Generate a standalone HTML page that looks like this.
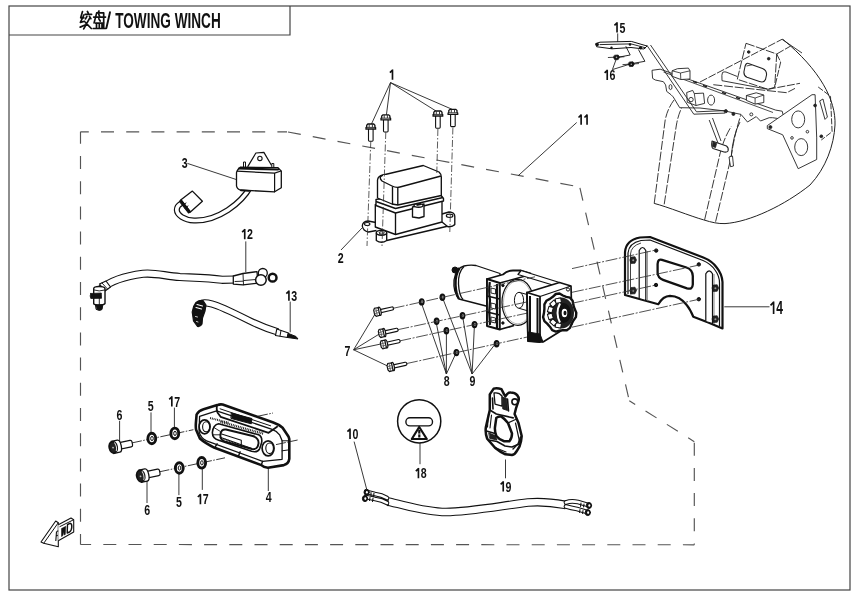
<!DOCTYPE html>
<html><head><meta charset="utf-8">
<style>
html,body{margin:0;padding:0;background:#fff;width:860px;height:600px;overflow:hidden}
svg{display:block;will-change:transform}
.lb{font-family:"Liberation Sans",sans-serif;font-weight:bold;font-size:15.2px;fill:#111}
</style></head><body>
<svg width="860" height="600" viewBox="0 0 860 600">
<defs>
<g id="bolt">
<rect x="-2.3" y="4.6" width="4.6" height="12.8" rx="0.9" fill="#fff" stroke="#111" stroke-width="1.1"/>
<path d="M-2.9,0.2 L2.9,0.2 L4.1,1.4 L4.1,3.3 L4.8,3.8 L4.8,5.2 L-4.8,5.2 L-4.8,3.8 L-4.1,3.3 L-4.1,1.4 Z" fill="#fff" stroke="#111" stroke-width="1.3"/>
<path d="M-1.6,0.5 L-1.6,3.4 M1.6,0.5 L1.6,3.4 M-4.5,3.6 L4.5,3.6" fill="none" stroke="#222" stroke-width="0.9"/>
</g>
<g id="bolt7">
<path d="M2.5,-1.6 L14.8,-1.6 Q16.2,-1.6 16.2,0 Q16.2,1.6 14.8,1.6 L2.5,1.6 Z" fill="#fff" stroke="#111" stroke-width="1.1"/>
<ellipse cx="2" cy="0" rx="1.3" ry="4.2" fill="#fff" stroke="#111" stroke-width="1.2"/>
<path d="M-3.6,-2.2 L-2.4,-4.1 L1.3,-3.9 L1.3,3.9 L-2.4,4.1 L-3.6,2.2 Z" fill="#fff" stroke="#111" stroke-width="1.2"/>
<path d="M-3.4,-1.1 L1.2,-1.3 M-3.4,1.2 L1.2,1.1 M-1.2,-3.9 L-1.2,3.9" fill="none" stroke="#555" stroke-width="0.8"/>
</g>
<g id="nut">
<ellipse cx="0" cy="0" rx="2.9" ry="3.7" fill="#111"/>
<ellipse cx="0.4" cy="-0.2" rx="1.1" ry="1.6" fill="#777"/>
</g>
<g id="bolt6">
<path d="M8,-3.3 L18.8,-3.3 Q20.5,-3.3 20.5,-1.6 L20.5,1.6 Q20.5,3.3 18.8,3.3 L8,3.3 Z" fill="#fff" stroke="#111" stroke-width="1.2"/>
<path d="M0.5,-6.2 L6.5,-6.2 Q9.2,-6.2 9.2,0 Q9.2,6.2 6.5,6.2 L0.5,6.2 Z" fill="#fff" stroke="#111" stroke-width="1.3"/>
<ellipse cx="1" cy="0" rx="3.9" ry="5.8" fill="#222" stroke="#111" stroke-width="1.8"/>
<path d="M3.2,-4.5 Q5.3,0 3.2,4.5" fill="none" stroke="#ddd" stroke-width="1"/>
<circle cx="0.8" cy="0.3" r="0.9" fill="#bbb"/>
</g>
<g id="washer">
<ellipse cx="0" cy="0" rx="3.9" ry="5.3" fill="#fff" stroke="#111" stroke-width="2.9"/>
<ellipse cx="0.2" cy="0" rx="1.3" ry="2.1" fill="none" stroke="#111" stroke-width="1"/>
</g>
</defs>
<g fill="none" stroke="#444" stroke-width="1.2">
<rect x="9" y="6" width="841" height="584"/>
<polyline points="9,35 290,35 290,6"/>
</g>
<!-- title -->
<g id="title">
<text class="lb" x="0" y="0" transform="translate(115.2,27.6) scale(0.608,1)" style="font-size:22.4px">TOWING WINCH</text>
</g>
<!-- dashed polygon 11 -->
<g fill="none" stroke="#555" stroke-width="1.15" stroke-dasharray="13 12.2">
<path d="M80.5,131.8 L80.5,544.5" stroke-dashoffset="1"/>
<path d="M80.5,131.8 L287,131.8" stroke-dashoffset="4.7"/>
<path d="M287,131.8 L579.7,187" stroke-dashoffset="-1"/>
<path d="M579.7,187 L629.3,400.7" stroke-dashoffset="-1"/>
<path d="M629.3,400.7 L694.3,441.7" stroke-dashoffset="6"/>
<path d="M694.3,441.7 L694.3,544.8" stroke-dashoffset="-1"/>
<path d="M80.5,544.5 L694.3,544.8" stroke-dashoffset="2.4"/>
</g>
<path id="leaders" fill="none" stroke="#222" stroke-width="0.9" d="M390.5,82.6L371.0,125.0M390.5,82.6L386.4,115.0M390.5,82.6L436.0,111.0M390.5,82.6L452.3,109.4M341.0,250.0L362.0,228.0M187.4,163.4L236.5,179.6M268.3,467.2L268.3,491.0M151.0,412.4L151.0,433.9M178.9,472.0L178.9,495.1M119.6,420.8L119.6,442.2M147.0,480.4L147.0,503.0M174.4,407.6L174.4,427.9M202.3,467.2L202.3,489.9M353.6,349.8L376.3,312.0M353.6,349.8L380.8,333.1M353.6,349.8L382.3,343.7M353.6,349.8L388.4,366.4M446.4,374L421.0,302.0M446.4,374L436.1,322.0M446.4,374L446.4,330.1M446.4,374L456.4,352.2M472.1,374L442.2,296.9M472.1,374L462.4,315.0M472.1,374L474.5,323.5M472.1,374L496.6,342.2M354.1,441.6L366.7,489.3M576.7,122.5L518.2,175.7M245.8,241.4L245.8,272.2M290.2,301.6L290.2,332.3M724.3,306.8L769.5,306.8M617.7,33.4L617.7,42.4M612.4,69.6L616.6,58.1M612.4,69.6L630.2,64.0M420.0,439.7L420.0,464.2M505.5,459.5L505.5,478.3"/>
<g id="cn" fill="none" stroke="#111" stroke-width="1.7" stroke-linecap="round" stroke-linejoin="round">
<path d="M82.5,11.5L80.7,17.8L83.9,17.8M83.9,15L80.4,22.4L84.6,21.3M80.2,27.1L85.1,25"/>
<path d="M87.4,11.5L88.3,13.1M85.1,14.3L91.6,14.3M86.9,16.4L85.5,18.9M89.5,16.4L90.9,18.7M89.7,18.2L83.7,28.9M85.3,22.4L91.3,28.5"/>
<path d="M99,11L97.9,13.1M96.7,12.9L94.1,22.9M96.7,12.9L103.7,12.9L103.7,22.4M93.7,17.1L105.5,17.1M98.8,14.5L99.5,15.9M98.8,18.7L100.2,21"/>
<path d="M95.5,23.1L103.7,23.1L103.7,28M96.5,23.1L96.5,28M99.3,23.1L99.3,28M102,23.1L102,28M93.2,28.5L105.8,28.5"/>
<path d="M110,12.2L106.4,28" stroke-width="1.9"/>
</g>
<g id="p1p2">
<use href="#bolt" x="370.8" y="123.8"/>
<use href="#bolt" x="385.8" y="114.6"/>
<use href="#bolt" x="437.9" y="110.8"/>
<use href="#bolt" x="452.9" y="109.2"/>
<g fill="#fff" stroke="#111" stroke-width="1.35" stroke-linejoin="round">
<!-- flange -->
<path d="M375.5,225 L386.7,240.5 L454.8,224.5 L442,219 Z" fill="#fff" stroke="none"/>
<path d="M386.7,240.5 L454.8,224.5"/>
<path d="M376,222.5 L368,221 Q362.5,221.5 362.3,226 Q363,231 368.5,232 L376.5,230.5" />
<ellipse cx="367.2" cy="224" rx="2.7" ry="1.5" stroke-width="1.1"/>
<path d="M376.3,232.8 L376.3,240.5 Q381.5,244 386.7,240.5 L386.7,232.8" />
<ellipse cx="381.5" cy="232.8" rx="5.2" ry="2.4"/>
<ellipse cx="381.7" cy="232.9" rx="2.6" ry="1.2" stroke-width="1"/>
<path d="M442,214 L449,212 Q455,212.2 454.8,216.5 L454.8,224.5 Q452,227.5 447.5,226.5 L442,222"/>
<ellipse cx="449.6" cy="215.8" rx="3.3" ry="1.7" stroke-width="1.1"/>
<!-- lower housing -->
<path d="M375.3,204.5 L395.5,211.5 L442,200 L442,222 L395.5,234.5 L375.3,227 Z"/>
<path d="M395.5,211.5 L395.5,234.5"/>
<path d="M376,199.3 L440.5,194.8 L443.5,198.5 L443.5,201 L395.5,213 L376,205.5 Z"/>
<path d="M376,201.5 L395.5,208.5 L443,197.5"/>
<path d="M412.5,207 L424,204 L424,216.5 L419,218 L412.5,217 Z"/>
<ellipse cx="418.5" cy="205.5" rx="4.5" ry="1.7"/>
<path d="M416.5,205 L421,204" stroke-width="2"/>
<!-- cap -->
<path d="M377.5,180 Q378,176 383,175 L423.3,165.5 L439,172 Q441.3,174 441.3,177 L441.3,195.5 L397.8,205 L392,204 L377.5,198 Z"/>
<path d="M383,175 Q378,177 382,181 L392,186 Q396,188 400,187 L441,176"/>
<path d="M392.5,186.5 L392.5,204.5 M397.8,187.5 L397.8,205"/>
</g>
<g fill="none" stroke="#333" stroke-width="0.8" stroke-dasharray="7 2 1.5 2">
<path d="M370.8,141 L367,246 M385.8,132 L382,246 M437.9,129 L436.8,173 M452.9,127.5 L449.8,232"/>
</g>
</g>
<g id="winch">
<use href="#bolt7" transform="translate(377.7,311.7) rotate(-12.4)"/>
<use href="#bolt7" transform="translate(382.3,333.0) rotate(-12.4)"/>
<use href="#bolt7" transform="translate(384.3,344.3) rotate(-12.4)"/>
<use href="#bolt7" transform="translate(391.0,367.0) rotate(-12.4)"/>
<use href="#nut" x="421.7" y="301.9"/>
<use href="#nut" x="436.6" y="321.3"/>
<use href="#nut" x="446.4" y="330.7"/>
<use href="#nut" x="456.4" y="352.6"/>
<use href="#nut" x="442.4" y="297.3"/>
<use href="#nut" x="462.5" y="315.8"/>
<use href="#nut" x="474.5" y="324.6"/>
<use href="#nut" x="496.6" y="343.8"/>
<g stroke="#111" stroke-linejoin="round">
<!-- motor -->
<path d="M464,266 Q470,264.5 476,265.5 L500,273.5 L500,300 L488,306.5 L459,299 Q453,292 454,280 Q456,268 464,266 Z" fill="#fff" stroke-width="1.3"/>
<path d="M464,266.5 Q458,272 458.5,284 Q459,295 463,299.5" fill="none" stroke-width="1.3"/>
<path d="M459.5,268 Q455,275 455.5,285 Q456,294 459,299" fill="none" stroke-width="2.4"/>
<circle cx="455" cy="270" r="3" fill="#111"/>
<!-- left plate -->
<path d="M487,279 L503,274.5 Q507,270.5 513,270.5 L521,270.5 L533,274 L533,317 L499.8,329.5 L487,326 Z" fill="#fff" stroke="none"/>
<path d="M487,326 L487,279 L503,274.5 Q507,270.5 513,270.5 L521,270.5 L531,273.5 M499.8,329.5 L514,325.5" fill="none" stroke-width="1.8"/>
<path d="M487,279 L499.8,283 L499.8,329.5 L487,326 Z" fill="#fff" stroke-width="1.9"/>
<path d="M489.8,282 Q488.5,292 490,300 Q488.5,312 490,325 M497,284 L497,328" fill="none" stroke-width="2.2"/>
<path d="M487,296 L499.8,299 M487,312 L499.8,315" fill="none" stroke-width="1.6"/>
<path d="M491,288 L495.5,289 L495.5,294 L491,293 Z M491,303 L495.5,304 L495.5,309 L491,308 Z M491,317 L495.5,318 L495.5,323 L491,322 Z" fill="#fff" stroke-width="0.9"/>
<path d="M499.8,283 L531,274.5" fill="none" stroke-width="1.3"/>
<ellipse cx="517.8" cy="302.3" rx="15.8" ry="23" fill="#fff" stroke-width="1.2"/>
<ellipse cx="517.8" cy="302.3" rx="14.3" ry="21.5" fill="none" stroke="#999" stroke-width="0.7"/>
<circle cx="502.9" cy="285.5" r="1.2" fill="#111"/><circle cx="502.9" cy="323" r="1.2" fill="#111"/>
<!-- drum hub -->
<path d="M519,292.3 L540,298 M519,308.3 L537,313.5" fill="none" stroke-width="1"/>
<ellipse cx="519" cy="300.3" rx="4.6" ry="8" fill="#fff" stroke-width="1"/>
<!-- tie bar -->
<path d="M521,270.5 L559.5,282.5 L556,286 L518,274.5 Z" fill="#fff" stroke-width="1.3"/>
<path d="M392.7,308.4L535.0,276.8M397.3,329.8L535.0,300.2M399.3,341.0L535.0,311.4M406.0,363.7L535.0,335.3" fill="none" stroke="#333" stroke-width="0.85" stroke-dasharray="12 1.6 2 1.6"/>
<!-- right plate -->
<path d="M527,292.5 L559.5,282.5 L571,286 L572,324 L543,342 L528,341 Z" fill="#fff" stroke-width="1.7"/>
<path d="M527,292.5 L540,296.5 L540,342 L528,341 Z" fill="#fff" stroke-width="1.8"/>
<path d="M540,296.5 L571,286" fill="none" stroke-width="1.3"/>
<path d="M530,296 L530,334 M537.5,298 L537.5,335" fill="none" stroke-width="2"/>
<path d="M528,332 L540,334 L543,342 L528,341 Z" fill="#111" stroke-width="1"/>
<circle cx="568" cy="289.5" r="1.6" fill="#fff" stroke-width="1"/>
<!-- knob -->
<path d="M576.3,312.8 L575.9,317.1 L573.4,320.5 L571.6,323.9 L570.0,327.9 L566.8,330.2 L562.9,330.1 L559.5,330.6 L555.8,331.6 L552.2,330.2 L549.9,326.7 L547.4,323.9 L544.4,321.2 L543.1,317.1 L544.0,312.8 L544.4,308.8 L544.4,304.4 L546.4,300.8 L549.9,298.9 L552.8,296.8 L555.8,294.0 L559.5,293.5 L562.9,295.5 L566.2,296.8 L570.0,297.7 L572.6,300.8 L573.4,305.1 L574.6,308.8 Z" fill="#fff" stroke-width="2.4"/>
<ellipse cx="561" cy="313" rx="13" ry="15.5" fill="#222" stroke="none"/>
<rect x="555.5" y="323.0" width="5.6" height="4.6" transform="rotate(190 558.3 325.3)" fill="#fff" stroke="#111" stroke-width="1"/>
<rect x="550.5" y="320.0" width="5.6" height="4.6" transform="rotate(222 553.3 322.3)" fill="#fff" stroke="#111" stroke-width="1"/>
<rect x="547.6" y="314.1" width="5.6" height="4.6" transform="rotate(254 550.4 316.4)" fill="#fff" stroke="#111" stroke-width="1"/>
<rect x="547.6" y="307.3" width="5.6" height="4.6" transform="rotate(286 550.4 309.6)" fill="#fff" stroke="#111" stroke-width="1"/>
<rect x="550.5" y="301.4" width="5.6" height="4.6" transform="rotate(318 553.3 303.7)" fill="#fff" stroke="#111" stroke-width="1"/>
<rect x="555.5" y="298.4" width="5.6" height="4.6" transform="rotate(350 558.3 300.7)" fill="#fff" stroke="#111" stroke-width="1"/>
<ellipse cx="563.5" cy="313" rx="7.5" ry="10" fill="#111" stroke="none"/>
<path d="M560,303.5 Q555,313 560,322.5" fill="none" stroke="#fff" stroke-width="2"/>
<ellipse cx="564.5" cy="313" rx="3.6" ry="5" fill="#fff" stroke="#111" stroke-width="1.6"/>
<ellipse cx="565" cy="313" rx="1.5" ry="2.2" fill="#111" stroke="none"/>
</g>
</g>
<g id="p14" stroke="#111" stroke-linejoin="round">
<path d="M625,295 L625,252 Q626,240 640,237.5 L650,237 L703.3,257.5 Q712,261 716.7,267.5 Q722,274 722.5,282 L722.5,328.5 L708.3,322.5 L693.3,316.7 Q690,309 686.7,305 Q680,296 670,295.8 Q663,296 658.3,304.2 Z" fill="#fff" stroke-width="2.2"/>
<path d="M628,294 L628,253 Q629,243 641,240.5 L650,240 L703,260.5 Q711,264 715,270 Q719.5,276 719.5,283 L719.5,326" fill="none" stroke-width="1.2"/>
<path d="M630.5,294.5 L630.5,254 Q631,246 641,243" fill="none" stroke-width="0.8"/>
<path d="M662,259.8 L686.5,267.5 Q692.5,269.5 692.8,276 L692.8,284.5 Q692.5,290 687,288.3 L663,279.8 Q657.8,278 657.6,272.5 L657.6,264 Q658,258.5 662,259.8 Z" fill="none" stroke-width="2.3"/>
<path d="M639.2,298.5 L639.2,250.5 Q642.5,244.5 645.8,250.5 L645.8,300.5 Z" fill="#fff" stroke-width="1.2"/><path d="M647.3,251 L647.3,301" fill="none" stroke="#777" stroke-width="0.9"/>
<path d="M705.8,321.5 L705.8,273.8 Q709.1,267.8 712.5,273.8 L712.5,323.5 Z" fill="#fff" stroke-width="1.2"/><path d="M714,274 L714,324" fill="none" stroke="#777" stroke-width="0.9"/>
<circle cx="656.2" cy="250.6" r="1.7" fill="#111"/><circle cx="698.8" cy="264.4" r="1.7" fill="#111"/>
<circle cx="656" cy="285" r="1.7" fill="#111"/><circle cx="698.8" cy="299.2" r="1.7" fill="#111"/>
<g fill="#222" stroke-width="0.6">
<path d="M631,257 L635,256.7 L636.5,260 L635,263.3 L631,263.6 L629.8,260 Z"/>
<path d="M631,287.5 L635,287.2 L636.5,290.5 L635,293.8 L631,294.1 L629.8,290.5 Z"/>
<path d="M713.2,285 L717.2,284.7 L718.7,288 L717.2,291.3 L713.2,291.6 L712,288 Z"/>
<path d="M713.2,316 L717.2,315.7 L718.7,319 L717.2,322.3 L713.2,322.6 L712,319 Z"/>
</g>
<g fill="#999" stroke="none"><circle cx="633.2" cy="260.2" r="1"/><circle cx="633.2" cy="290.7" r="1"/><circle cx="715.4" cy="288.2" r="1"/><circle cx="715.4" cy="319.2" r="1"/></g>
</g>
<path d="M572.0,268.6L657.3,249.7M572.0,292.3L700.7,264.7M572.0,303.3L657.3,284.7M572.0,327.2L700.7,298.9" fill="none" stroke="#333" stroke-width="0.85" stroke-dasharray="12 1.6 2 1.6"/>

<g id="p4" stroke="#111" stroke-linejoin="round" stroke-linecap="round" transform="translate(0.6,0.8)">
<path d="M196,413.7 Q198,410 203,408.5 L216.7,404.3 Q219,403.3 222,403.7 L272.7,421.7 Q278,423.5 282,427 L288,436 Q289,438 288.7,441 L288.7,458 Q288,463 283.3,464.3 L267.3,467 Q263,466.5 260.7,464.3 L214,447 Q204,442 199.3,437.7 L195.5,429 Q195,426 195.3,422 Z" fill="#fff" stroke-width="2.6"/>
<path d="M199,415.5 L216,410 L271.5,428.5 Q276,430 279,434 L281.5,440 L281.5,458.5 M199,415.5 L198.5,431 Q200,437 206,440 L262,460.5 L281.5,458.5" fill="none" stroke-width="1.3"/>
<path d="M216.5,404.5 Q215.5,408 217,412 L220,416 L268,432 L276.5,426" fill="none" stroke-width="1.8"/>
<path d="M231,412.3 L251.3,417.7 L250.7,423 L230.7,417.7 Z" fill="#111" stroke-width="1"/>
<path d="M219.5,408 L270,425" fill="none" stroke-width="1"/>
<ellipse cx="204" cy="426" rx="5.5" ry="7" fill="#fff" stroke-width="1.7"/>
<ellipse cx="205.5" cy="426" rx="3.5" ry="5" fill="none" stroke-width="1.1"/>
<ellipse cx="267.5" cy="447.5" rx="6" ry="7.5" fill="#fff" stroke-width="1.7"/>
<ellipse cx="269" cy="447.5" rx="3.8" ry="5.3" fill="none" stroke-width="1.1"/>
<path d="M218.1,422.9 L258,434 Q262,436 261,442 L259,448 Q257,452 251,450.5 L218.1,439.5 Q211.5,437.5 211.8,431.5 Q212.5,424 218.1,422.9 Z" fill="#fff" stroke-width="1.6"/>
<path d="M220,421 L263,433" fill="none" stroke-width="2.3" stroke-dasharray="0.9 0.9" stroke-linecap="butt"/>
<path d="M209.5,417.2 L228,422" fill="none" stroke-width="2" stroke-dasharray="0.9 0.9" stroke-linecap="butt"/>
<path d="M225.4,428.7 L252.1,435.2 Q258.4,437.2 257.9,442.7 Q257,449.2 251.4,448.2 L224,440.5 Q219.5,439 219.8,434 Q220.3,428 225.4,428.7 Z" fill="#fff" stroke-width="1.9"/>
<path d="M219.5,436.5 L250.5,447.5 M221,433.2 L240.7,439.5 L240.7,446.3" fill="none" stroke-width="1.1"/>
<path d="M222.5,438 L238,443.3" fill="none" stroke-width="1.6" stroke-dasharray="0.8 0.8" stroke-linecap="butt"/>
<path d="M213,426.5 L219.5,430.5 M212.5,434 L219.5,434" fill="none" stroke-width="0.9"/>
<path d="M214,447 L216.5,443 M260.7,464.3 L262,460.5 M238,455 L239.5,451" fill="none" stroke-width="1.4"/>
<path d="M281.5,440 L288.5,440 M281.5,450 L288.7,449" fill="none" stroke-width="1"/>
</g>
<g id="p6">
<path d="M132,442.9 L193.4,429.7 M258,416.2 L273,413 M159.5,471.8 L225,457.8 M276,444.6 L297.6,440" fill="none" stroke="#222" stroke-width="0.9" stroke-dasharray="10 1.5 1.5 1.5"/>
<use href="#bolt6" transform="translate(112.2,447.5) rotate(-12)"/>
<use href="#bolt6" transform="translate(139.7,476.3) rotate(-12)"/>
<use href="#washer" x="151.8" y="438.5"/>
<use href="#washer" x="174.8" y="433.4"/>
<use href="#washer" x="179.3" y="468"/>
<use href="#washer" x="201.7" y="462.8"/>
</g>
<g id="p3" stroke="#111" stroke-linejoin="round" stroke-linecap="round">
<path d="M250.5,186.5 C247,193 240,202 228,210 C218,216.5 206,221 194,220.5 C184,220 177,215 176.8,210 C176.7,207 178.5,205 181,203.5" fill="none" stroke="#111" stroke-width="6"/>
<path d="M250.5,186.5 C247,193 240,202 228,210 C218,216.5 206,221 194,220.5 C184,220 177,215 176.8,210 C176.7,207 178.5,205 181,203.5" fill="none" stroke="#fff" stroke-width="3.6"/>
<path d="M181,199.8 L192.4,191.1 L202.4,201.2 L190.4,211.9 Z" fill="#fff" stroke-width="1.3"/>
<path d="M181,199.8 L190.4,211.9 L188.5,213 L179.5,201.5 Z" fill="#111" stroke-width="1.2"/>
<path d="M183,205 L186,203 M185,208 L188,206" fill="none" stroke-width="1"/>
<path d="M247.9,166.4 L255.9,153 L263.9,152.4 L271.3,165" fill="#fff" stroke-width="1.2"/>
<circle cx="259.9" cy="158.4" r="2.2" fill="#fff" stroke-width="1.1"/>
<path d="M243.5,167 L243.5,162 L245.5,162 L245.5,167 M271.8,167.5 L271.8,163.5 L273.8,163.5 L273.8,167.5" fill="#fff" stroke-width="1"/>
<path d="M236.5,172.5 Q237,169.5 240.5,167.1 L278,167.7 L281.3,171.1 L281.3,187.8 L274.6,191.8 L240,190 Q237,189 236.5,186 Z" fill="#fff" stroke-width="1.3"/>
<path d="M237,171.2 L274.6,173.1 L281,171 M274.6,173.1 L274.6,191.8" fill="none" stroke-width="1.2"/>
<path d="M239,168.5 L278,169.5" fill="none" stroke-width="2.2"/>
<path d="M241,190.3 L249,190.8" fill="none" stroke-width="1.8"/>
</g>
<g id="p12" stroke="#111" stroke-linejoin="round" stroke-linecap="round">
<path d="M101,289 C108,283 118,277 143,273.8 C155,272.5 165,276 180,277 C198,277.8 210,278 222,279.8 L236,279.5" fill="none" stroke="#111" stroke-width="8.2" stroke-linecap="butt"/>
<path d="M101,289 C108,283 118,277 143,273.8 C155,272.5 165,276 180,277 C198,277.8 210,278 222,279.8 L236,279.5" fill="none" stroke="#fff" stroke-width="6" stroke-linecap="butt"/>
<circle cx="262.8" cy="273" r="4.5" fill="#fff" stroke-width="1.3"/>
<path d="M233.3,276 L243,273.5 L257,271.6 L258,283.2 L243,284.8 L233.3,284.1 Z" fill="#fff" stroke-width="1.3"/>
<path d="M243,273.5 L243.5,284.8 M235,281.5 L243,281.2 M244,280.5 L256,279.5" fill="none" stroke-width="0.9"/>
<circle cx="260.9" cy="280" r="5.3" fill="#fff" stroke-width="1.5"/>
<circle cx="272.6" cy="277.7" r="3.9" fill="#fff" stroke-width="2.5"/>
<path d="M99.5,284 L106,281 L110.5,287 L105,291 Z" fill="#fff" stroke-width="1.2"/>
<path d="M102,283 L107.5,289" fill="none" stroke-width="0.9"/>
<path d="M93.7,288.5 Q94,286.5 99,286.5 Q104.5,286.5 105,288.5 L105,303.5 Q104,305 99.5,305 Q94,305 93.7,303.5 Z" fill="#fff" stroke-width="1.4"/>
<path d="M93.8,290 Q99,292 105,290 M99.3,298 L99.3,305" fill="none" stroke-width="0.9"/>
<path d="M90.7,293.5 L101.3,293 L101.5,298.3 L90.8,298.5 Q89.5,296 90.7,293.5 Z" fill="#111" stroke-width="0.8"/>
<path d="M95.8,305 L102.8,305 L102,309.5 L99.5,310.5 L96.5,309.5 Z" fill="#111" stroke-width="1"/>
</g>
<g id="p13" stroke="#111" stroke-linejoin="round" stroke-linecap="round">
<path d="M199,306 C202,302 206,302.5 212,304 C218,305.5 228,310 248,320 C258,325 268,329 278,332" fill="none" stroke="#111" stroke-width="7.4" stroke-linecap="butt"/>
<path d="M199,306 C202,302 206,302.5 212,304 C218,305.5 228,310 248,320 C258,325 268,329 278,332" fill="none" stroke="#fff" stroke-width="5.2" stroke-linecap="butt"/>
<path d="M276.8,329 L288.5,333 L287.5,337.5 L275.5,335.5 Z" fill="#fff" stroke-width="1.2"/>
<path d="M281,330.5 L280,336" fill="none" stroke-width="1"/>
<path d="M288.5,333.5 L296,336.5 L298,339 L287.5,337.5 Z" fill="#111" stroke-width="1"/>
<path d="M196,302.5 Q199,300 203,300.5 L206,305 L205,311 L202.5,318 L202,324 Q200.5,327 197.5,326.5 L193.5,321 L192.2,312 Q193,306 196,302.5 Z" fill="#111" stroke-width="1.2"/>
<path d="M197,304.5 L202.5,306 M196,307.5 L201.5,309" fill="none" stroke="#fff" stroke-width="1.1"/>
<path d="M195.5,316.5 L197.5,317 M196.5,321.5 L198,322" fill="none" stroke="#fff" stroke-width="0.8"/>
</g>
<g id="p10" stroke="#111" stroke-linejoin="round" stroke-linecap="round">
<path d="M387.5,501.5 C405,505 425,512 446,512 C468,512 500,506 528,502.5 C545,501 555,503 566,505" fill="none" stroke="#111" stroke-width="8.6" stroke-linecap="butt"/>
<path d="M387.5,501.5 C405,505 425,512 446,512 C468,512 500,506 528,502.5 C545,501 555,503 566,505" fill="none" stroke="#fff" stroke-width="6.4" stroke-linecap="butt"/>
<path d="M388,497.5 L388,505.5 M565.5,501 L565,508" fill="none" stroke-width="1.3"/>
<path d="M387,498 Q382,495 375,494 L367,492 M387,503 Q382,500 375,499 L366,497" fill="none" stroke="#111" stroke-width="4.6"/>
<path d="M387,498 Q382,495 375,494 L367,492 M387,503 Q382,500 375,499 L366,497" fill="none" stroke="#fff" stroke-width="2.6"/>
<ellipse cx="366.6" cy="492.2" rx="2.6" ry="3" fill="#111" stroke-width="1"/><ellipse cx="366.9" cy="492.2" rx="1" ry="1.3" fill="#fff" stroke="none"/>
<ellipse cx="365" cy="498.6" rx="2.6" ry="3" fill="#111" stroke-width="1"/><ellipse cx="365.3" cy="498.6" rx="1" ry="1.3" fill="#fff" stroke="none"/>
<path d="M371,492.5 L371,495.8 M374,493.2 L373.5,496.5 M370,497.5 L369.5,500.5 M373,498.3 L372.5,501.5" fill="none" stroke-width="1.1"/>
<path d="M566,502.5 Q571,500.5 578,502 L588,505 M566,506.5 Q571,508 577,509 L587,512" fill="none" stroke="#111" stroke-width="4.6"/>
<path d="M566,502.5 Q571,500.5 578,502 L588,505 M566,506.5 Q571,508 577,509 L587,512" fill="none" stroke="#fff" stroke-width="2.6"/>
<ellipse cx="589" cy="505.5" rx="2.6" ry="3" fill="#111" stroke-width="1"/><ellipse cx="589.3" cy="505.5" rx="1" ry="1.3" fill="#fff" stroke="none"/>
<ellipse cx="587.8" cy="512.6" rx="2.6" ry="3" fill="#111" stroke-width="1"/><ellipse cx="588.1" cy="512.6" rx="1" ry="1.3" fill="#fff" stroke="none"/>
<path d="M581,503 L580.5,506.5 M584,504 L583.5,507 M580,509.5 L579.5,512.5 M583,510.5 L582.5,513.5" fill="none" stroke-width="1.1"/>
</g>
<g id="p18" stroke="#111" stroke-linejoin="round">
<circle cx="419.2" cy="421.3" r="21.6" fill="#fff" stroke-width="1.5"/>
<rect x="405.9" y="417.8" width="26.6" height="8.1" rx="4" fill="#fff" stroke-width="1.4"/>
<path d="M419.2,427 L411.8,439 L426.8,439 Z" fill="#fff" stroke-width="2.2"/>
<path d="M419.3,430 L419.3,437.5" fill="none" stroke-width="2.2"/>
<path d="M417.5,434 L421,434" fill="none" stroke="#fff" stroke-width="0.8"/>
</g>
<g id="p19" stroke="#111" stroke-linejoin="round" stroke-linecap="round">
<path d="M489.8,394.4 L493.7,388.6 Q497,387.5 501.5,389.2 L504.1,394.4 L505.4,396.4 Q508,392 510.6,392.5 Q515,392.5 517.2,395.1 Q519.5,398 518.5,400.9 L515.9,408.7 L514.6,414 L518.5,423 L521.7,436 L521,441.3 Q520,447 517.2,450.4 Q515,454.5 512,455 L505.4,454.3 Q500,452 495,447.8 L487.2,438.7 Q485,433 485.9,427 L489.8,410 Z M496.3,417.9 Q498.5,416 501.5,416.6 Q505,419 508,423 L512,433.5 Q512,438.5 509.3,441.3 L504.1,441.3 Q499,439.5 496.3,436 Q494.5,431 495,427 Z" fill="#fff" fill-rule="evenodd" stroke-width="2.5"/>
<path d="M489.8,410 L496.3,414 L513.2,417.9 M492.5,398 L493,409 M507.5,399 L508.5,411" fill="none" stroke-width="1.6"/>
<path d="M494,393 Q499,392 502,396 L502,406 L495,404 Z" fill="#fff" stroke-width="1.3"/>
<circle cx="514.8" cy="401.8" r="2.9" fill="#fff" stroke-width="1.6"/>
<path d="M486.5,431 L495,433.5 M488.5,440 L497,441.5 L505,446 L512,447 L519,444" fill="none" stroke-width="1.5"/>
<path d="M489,433 L495,435.5 L497,440 L490,438.5 Z" fill="#222" stroke-width="0.8"/>
<path d="M515.5,423 L519.8,442.6 M508,423 L515.5,419.5" fill="none" stroke-width="1.2"/>
<path d="M496,448 L506,452" fill="none" stroke-width="1.2"/>
<path d="M502.5,397 L506.5,398.5 L507.5,410.5 L503,409 Z" fill="#222" stroke-width="0.8"/>
<path d="M488.5,414 L487.5,427 M491.5,415 L490,428" fill="none" stroke-width="1.1"/>
<path d="M513,449 L518,444 L520.5,437" fill="none" stroke-width="1.4"/>
</g>
<g id="frame" fill="none" stroke="#222" stroke-width="0.9" stroke-linejoin="round">
<!-- boundary arc -->
<path d="M654.2,203.4 C668,207 690,216 703.7,219.9 C712,222.5 718,223.8 725,223.6 C750,222 785,205 810,185 C826,168 834,145 835,125 C836,100 820,70 782.7,39.2" stroke-width="1"/>
<!-- tubes -->
<g stroke-dasharray="9 1.8">
<path d="M654.2,203.4 L665.2,120 Q668,106 677.5,95.8"/>
<path d="M664.2,204.3 L676.4,125 Q678.5,113 683,105.5"/>
<path d="M704.6,219.9 L720.2,153 Q724,138 731.3,126.4"/>
<path d="M715.6,221.7 L731.2,156.7 Q734,136 741,114.4"/>
<path d="M713.3,84.7 L786.7,92.7 L795,88.4"/>
</g>
<!-- beam front face -->
<path d="M652,70.3 L660.2,69.2 L775.7,110.1 L782.2,111.2 L783.3,115.5 L780,118.8 L772.5,117.7 L769.2,117.7 L760.5,121 L756.2,116.6 L747.5,122 L741,114.4 L725,111 L700,108 L679.7,107.7 L673.2,96.9 L671,94.7 L666.7,91.4 L665.6,84.9 L663.4,81.7 L655.3,80 L652.6,78.4 Z" fill="#fff"/>
<path d="M663.5,72 L773,112.5" stroke-width="0.8"/>
<path d="M693,81.5 L697,82.8 M703,85.5 L707,86.8 M722,92.5 L726,93.8 M736,97.5 L740,98.8" stroke-width="1.6"/>
<path d="M672.1,76.3 L672.1,70.8 L677.5,68.7 L688.4,68.1 L690,70.8 L690,79 L680.8,79.5 Z" fill="#fff"/>
<path d="M672.1,70.8 L680.5,73 L690,70.8 M680.5,73 L680.8,79.5" stroke-width="0.8"/>
<path d="M686.7,92.5 L692.7,90.4 L694.3,93.6 L703.5,93.1 L704.6,103.4 L696,105.5 L687.3,102.3 Z" fill="#fff"/>
<path d="M694.3,93.6 L696,105.5" stroke-width="0.8"/>
<path d="M746.4,95.5 L756.2,92.8 L763.8,95 L763.8,102.5 L755.1,104.1 L746.4,100.4 Z" fill="#fff"/>
<path d="M746.4,95.5 L755.1,98 L763.8,95 M755.1,98 L755.1,104.1" stroke-width="0.8"/>
<ellipse cx="711.1" cy="100.1" rx="3.5" ry="5"/><circle cx="691" cy="99.6" r="2.2"/><ellipse cx="670.5" cy="87.1" rx="1.5" ry="2.5"/><circle cx="751.3" cy="114.4" r="1.5"/>
<!-- upper bracket -->
<path d="M700,82 L782,39.3 M776.7,54 L790.7,46 M768,89.3 L800,83.3" stroke-dasharray="8 1.6"/>
<path d="M782,39.3 L802,53"/>
<path d="M722,80.7 L768,89.3 M722.5,72.5 Q721.5,74 722,80.7 M722.5,72.5 Q724,71.5 726,72 L737.3,76.5" stroke-width="0.9"/>
<path d="M746,43.3 L776.7,54 L774.7,87.3 L768,89.3 L737.3,79.3 Z" fill="none" stroke-dasharray="9 1.5"/>
<path d="M776.7,54 L780.7,62 L774.7,87.3" stroke-dasharray="7 1.5"/>
<path d="M748.5,63.5 L762.5,68.5 Q767,70.5 766.5,75 L765.5,79.5 Q764,83 759.5,81.5 L747,77.3 Q743.5,75.8 744,71.5 L745,66.5 Q746,62.5 748.5,63.5 Z" stroke-width="1.1"/>
<path d="M746.5,66 L752,64.8" stroke-width="0.8"/>
<circle cx="748.7" cy="52" r="1.3" fill="#222"/><circle cx="768.7" cy="58.7" r="1.3" fill="#222"/>
<!-- gusset plate -->
<path d="M767.3,125.6 L812,94.7 L815.1,94.7 L816.7,137.9 L816.7,159.5 L798.2,168.7 L782.7,134.8 L767.3,128.6 Z" fill="#fff"/>
<ellipse cx="798.2" cy="119.4" rx="6.5" ry="8.5"/><ellipse cx="801.2" cy="147.1" rx="6.5" ry="8.5"/>
<circle cx="792" cy="137.9" r="1.3"/><circle cx="807.4" cy="131.7" r="1.3"/>
<circle cx="770.4" cy="127.1" r="1.5" fill="#222"/><circle cx="815.1" cy="105.5" r="1.4" fill="#222"/><circle cx="821.3" cy="136.3" r="1.4" fill="#222"/>
<path d="M818.2,87 L830.5,96.3 L832.1,131.7 L821.3,140" stroke-dasharray="6 1.5"/>
<path d="M819.7,100.9 L823,99 L827.4,117 L825,119.4 Z"/>
<!-- hanging bracket & wire -->
<path d="M709.2,120 L718.3,143.8 M712.5,118 L721,141"/>
<path d="M712,141.1 L726.5,146 Q729,148 728,151 Q727,152.5 724,152 L713,148.5 Q711,147 712,141.1 Z" fill="#fff" stroke-width="1.1"/>
<path d="M713,142 L716.5,143.5 L715.5,147.5 L712.5,146.5 Z" fill="#222"/>
<path d="M740,122 Q733,135 731.2,156.7" />
<path d="M729,157 L732.5,156 L733.5,166 L730.5,166.7 Z" fill="#fff"/>
<!-- rod of part 15 -->
<path d="M646.7,45 L693.8,114.2 L725,113.1 M650.5,45 L696.5,111.8 L725,110.6"/>
<circle cx="725.8" cy="111.2" r="1.6" fill="#222"/><circle cx="733.4" cy="113.9" r="1.5" fill="#222"/>
</g>
<g id="p15" stroke="#111" stroke-linejoin="round" stroke-linecap="round" fill="none">
<path d="M596,43.5 L600,42.2 L631.3,41.4 L647,46 L644,49 L631,47.5 L612,48.8 L597,46.8 Z" fill="#fff" stroke-width="1"/>
<path d="M600,44.6 L631,43.9 L645.5,47.8" stroke-width="0.9"/>
<circle cx="597.2" cy="44.5" r="1.7" fill="#111" stroke="none"/><circle cx="611.5" cy="47.8" r="1.2" fill="#111" stroke="none"/><circle cx="630" cy="44.5" r="1.3" fill="#111" stroke="none"/><circle cx="640.5" cy="47.8" r="1.6" fill="#111" stroke="none"/>
<path d="M626,46.6 L630.2,55 L619,57.1 M638.6,49.8 L644.9,61.3 L633,63.4" stroke-width="0.9"/>
<path d="M608.3,57.5 L624,56.8 M622.9,64.6 L638.6,63.6" stroke-width="0.8"/>
<path d="M614.8,55.2 L618.2,55 L619.5,57.3 L618.2,59.6 L614.8,59.8 L613.5,57.5 Z" fill="#111" stroke-width="0.7"/>
<path d="M629.6,62 L633,61.8 L634.3,64.1 L633,66.4 L629.6,66.6 L628.3,64.3 Z" fill="#111" stroke-width="0.7"/>
<circle cx="616.5" cy="57.4" r="0.8" fill="#aaa" stroke="none"/><circle cx="631.3" cy="64.2" r="0.8" fill="#aaa" stroke="none"/>
</g>
<g id="fwd" stroke="#111" stroke-linejoin="round" fill="#fff">
<path d="M41,542 L55.7,521 L58.3,522.7 L58.3,546.7 L43.7,543.3 Z" stroke-width="1.1"/>
<path d="M43.7,543.3 L58.3,522.7" fill="none" stroke-width="1"/>
<path d="M58.3,524.7 L71,518 L73.7,519.7 L73.7,532 L58.3,540.7" stroke-width="1.1"/>
<path d="M59.5,526.8 L73.7,519.7" fill="none" stroke-width="1"/>
<path d="M56.8,531.5 L58.3,530.8 M56.5,531.5 L55.8,541 M56.2,536 L57.8,535.2" fill="none" stroke-width="1.1"/>
<path d="M61.5,528.5 L65.8,526.3 L65.3,534.5 L64,535 L63.5,531.5 L62.8,535.8 L61.5,536.5 Z" fill="#111" stroke-width="0.5"/>
<path d="M67.5,524.5 L70,523.3 Q72,523.5 71.8,527 Q71.5,531 69.5,532 L67.2,533 Z" fill="#fff" stroke-width="1.4"/>
</g>
<!-- labels -->
<g class="lb" id="labels">
<text x="0" y="0" text-anchor="middle" transform="translate(340.60,263.0) scale(0.70,1)">2</text>
<text x="0" y="0" text-anchor="middle" transform="translate(184.70,168.0) scale(0.70,1)">3</text>
<text x="0" y="0" text-anchor="middle" transform="translate(268.60,501.8) scale(0.70,1)">4</text>
<text x="0" y="0" text-anchor="middle" transform="translate(150.60,410.7) scale(0.70,1)">5</text>
<text x="0" y="0" text-anchor="middle" transform="translate(179.00,506.6) scale(0.70,1)">5</text>
<text x="0" y="0" text-anchor="middle" transform="translate(119.40,419.6) scale(0.70,1)">6</text>
<text x="0" y="0" text-anchor="middle" transform="translate(147.10,514.9) scale(0.70,1)">6</text>
<text x="0" y="0" text-anchor="middle" transform="translate(347.50,355.8) scale(0.70,1)">7</text>
<text x="0" y="0" text-anchor="middle" transform="translate(446.80,386.0) scale(0.70,1)">8</text>
<text x="0" y="0" text-anchor="middle" transform="translate(472.40,386.0) scale(0.70,1)">9</text>
<text x="0" y="0" text-anchor="middle" transform="translate(355.36,438.9) scale(0.70,1)">0</text>
<text x="0" y="0" text-anchor="middle" transform="translate(250.06,239.3) scale(0.70,1)">2</text>
<text x="0" y="0" text-anchor="middle" transform="translate(294.26,300.8) scale(0.70,1)">3</text>
<text x="0" y="0" text-anchor="middle" transform="translate(779.66,313.9) scale(0.68,1)" style="font-size:17.8px">4</text>
<text x="0" y="0" text-anchor="middle" transform="translate(622.36,32.6) scale(0.70,1)">5</text>
<text x="0" y="0" text-anchor="middle" transform="translate(612.56,80.1) scale(0.70,1)">6</text>
<text x="0" y="0" text-anchor="middle" transform="translate(177.16,406.5) scale(0.70,1)">7</text>
<text x="0" y="0" text-anchor="middle" transform="translate(205.76,504.2) scale(0.70,1)">7</text>
<text x="0" y="0" text-anchor="middle" transform="translate(423.76,478.3) scale(0.70,1)">8</text>
<text x="0" y="0" text-anchor="middle" transform="translate(508.56,491.5) scale(0.70,1)">9</text>
</g>
<path id="ones" d="M392.49,69.50L392.49,79.80M392.79,69.80L389.89,72.60M350.03,428.60L350.03,438.90M350.33,428.90L347.43,431.70M581.13,114.40L581.13,124.70M581.43,114.70L578.53,117.50M587.05,114.40L587.05,124.70M587.35,114.70L584.45,117.50M244.73,229.00L244.73,239.30M245.03,229.30L242.13,232.10M288.93,290.50L288.93,300.80M289.23,290.80L286.33,293.60M773.61,301.60L773.61,313.90M773.91,301.90L770.52,305.34M617.03,22.30L617.03,32.60M617.33,22.60L614.43,25.40M607.23,69.80L607.23,80.10M607.53,70.10L604.63,72.90M171.83,396.20L171.83,406.50M172.13,396.50L169.23,399.30M200.43,493.90L200.43,504.20M200.73,494.20L197.83,497.00M418.43,468.00L418.43,478.30M418.73,468.30L415.83,471.10M503.23,481.20L503.23,491.50M503.53,481.50L500.63,484.30" fill="none" stroke="#111" stroke-width="1.65" stroke-linecap="butt" stroke-linejoin="miter"/>
</svg>
</body></html>
